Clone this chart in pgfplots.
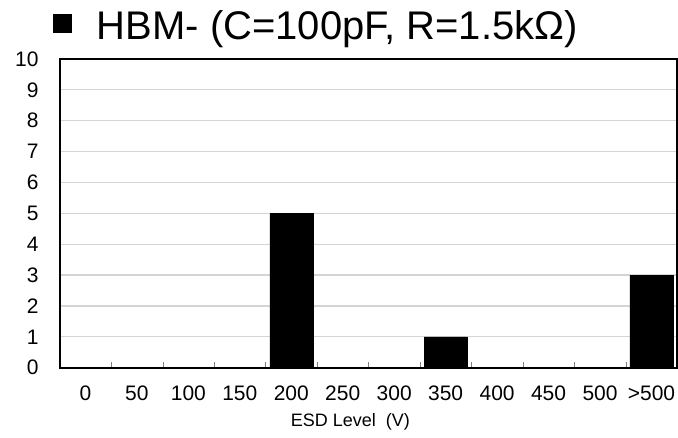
\documentclass[border=0pt]{standalone}
\usepackage{pgfplots}
\pgfplotsset{compat=1.18}
\usepackage{fontspec}
\setmainfont{Liberation Sans}
\begin{document}
\begin{tikzpicture}
\begin{axis}[
  name=ax,
  scale only axis,
  width=618pt, height=309pt,
  xmin=-0.5, xmax=11.5,
  ymin=0, ymax=10,
  ytick={0,1,...,10},
  xtick={0,1,...,11},
  xticklabels={0,50,100,150,200,250,300,350,400,450,500,>500},
  minor xtick={0.5,1.5,...,10.5},
  major x tick style={draw=none},
  minor tick length=6pt,
  tick align=inside,
  xtick pos=bottom,
  ytick style={draw=none},
  ymajorgrids,
  grid style={line width=1.3pt, color=black!17},
  axis line style={line width=1.6pt},
  /pgf/number format/assume math mode=true,
  ticklabel style={font=\fontsize{21}{24}\selectfont},
  yticklabel style={inner sep=0pt, xshift=-21pt},
  xticklabel style={inner sep=0pt, yshift=-18pt},
  xlabel={ESD Level\ \ (V)},
  xlabel style={font=\fontsize{18}{20}\selectfont, inner sep=0pt, yshift=-13pt, xshift=-18pt},
]
\addplot[ybar, bar width=0.835, fill=black, draw=black] coordinates {
(0,0) (1,0) (2,0) (3,0) (4,5) (5,0) (6,0) (7,1) (8,0) (9,0) (10,0) (11,3)
};
\end{axis}
\node[anchor=base west, font=\fontsize{40}{44}\selectfont, inner sep=0pt]
  at ([xshift=-7pt, yshift=19pt]ax.north west) {\raisebox{7pt}{\rule{19pt}{19pt}}\hspace{25pt}HBM- (C=100pF, R=1.5kΩ)};
\useasboundingbox ([xshift=-59.75pt,yshift=-70pt]ax.south west) rectangle ([xshift=0.25pt, yshift=59pt]ax.north east);
\end{tikzpicture}
\end{document}
